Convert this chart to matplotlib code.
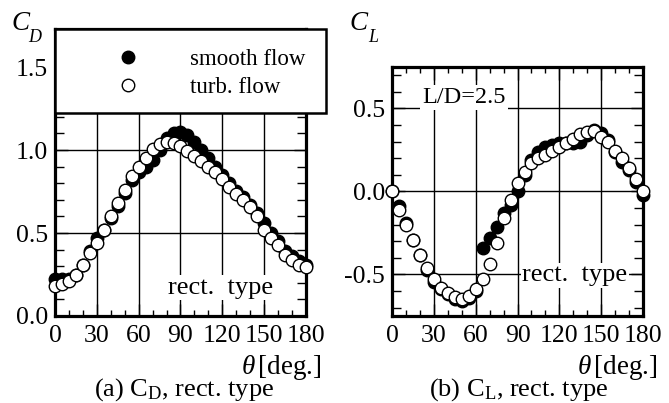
import numpy as np
import matplotlib
matplotlib.use('Agg')
import matplotlib.pyplot as plt
from matplotlib.ticker import MultipleLocator, FormatStrFormatter
from matplotlib.patches import Rectangle

plt.rcParams['font.family'] = 'Liberation Serif'
plt.rcParams['mathtext.fontset'] = 'custom'
plt.rcParams['mathtext.rm'] = 'Liberation Serif'
plt.rcParams['mathtext.it'] = 'Liberation Serif:italic'
plt.rcParams['axes.unicode_minus'] = False

# angle of attack, deg
theta = np.arange(0, 181, 5)

# (a) drag coefficient
cd_smooth = [0.22, 0.22, 0.22, 0.25, 0.31, 0.39, 0.47, 0.52, 0.59, 0.66,
             0.74, 0.82, 0.87, 0.90, 0.94, 1.00, 1.07, 1.10, 1.11, 1.09,
             1.05, 1.00, 0.95, 0.90, 0.85, 0.80, 0.755, 0.715, 0.67, 0.62,
             0.56, 0.50, 0.45, 0.39, 0.36, 0.33, 0.31]
cd_turb = [0.18, 0.19, 0.21, 0.25, 0.31, 0.38, 0.44, 0.52, 0.60, 0.68,
           0.76, 0.845, 0.90, 0.955, 1.005, 1.035, 1.05, 1.04, 1.025, 0.995,
           0.965, 0.935, 0.90, 0.865, 0.825, 0.78, 0.735, 0.70, 0.655, 0.60,
           0.52, 0.47, 0.43, 0.37, 0.335, 0.31, 0.295]

# (b) lift coefficient
cl_smooth = [0.0, -0.09, -0.19, -0.29, -0.38, -0.47, -0.545, -0.59, -0.62, -0.645,
             -0.66, -0.64, -0.60, -0.34, -0.28, -0.215, -0.13, -0.08, 0.0, 0.10,
             0.19, 0.24, 0.27, 0.28, 0.29, 0.29, 0.29, 0.30, 0.34, 0.37,
             0.355, 0.31, 0.235, 0.18, 0.13, 0.06, -0.02]
cl_turb = [0.0, -0.11, -0.20, -0.29, -0.38, -0.46, -0.53, -0.58, -0.61, -0.635,
           -0.645, -0.63, -0.59, -0.53, -0.435, -0.31, -0.16, -0.05, 0.05, 0.12,
           0.17, 0.20, 0.22, 0.245, 0.265, 0.29, 0.315, 0.345, 0.36, 0.365,
           0.33, 0.30, 0.245, 0.20, 0.14, 0.075, 0.0]

fig = plt.figure(figsize=(6.69, 4.03), dpi=100)
ax1 = fig.add_axes([0.0822, 0.2159, 0.3752, 0.7122])
ax2 = fig.add_axes([0.586, 0.2159, 0.3752, 0.6179])


def style(ax):
    ax.set_xlim(0, 180)
    ax.xaxis.set_major_locator(MultipleLocator(30))
    ax.xaxis.set_minor_locator(MultipleLocator(10))
    ax.yaxis.set_major_locator(MultipleLocator(0.5))
    ax.yaxis.set_minor_locator(MultipleLocator(0.1))
    ax.yaxis.set_major_formatter(FormatStrFormatter('%.1f'))
    ax.tick_params(which='both', direction='in', top=True, right=True, width=1)
    ax.tick_params(which='major', length=9, labelsize=18.5)
    ax.tick_params(axis='x', which='major', pad=6.5)
    ax.tick_params(axis='y', which='major', pad=5)
    ax.tick_params(axis='x', which='minor', length=4.5)
    ax.tick_params(axis='y', which='minor', length=6.5)
    ax.grid(which='major', color='k', lw=1)
    ax.set_axisbelow(True)
    for s in ax.spines.values():
        s.set_linewidth(2.3)


def ylabel(x, y, sub):
    # italic C with a low subscript, as in the original figure
    fig.text(x / 669, 1 - y / 403, 'C', fontsize=19.5, style='italic', ha='center', va='center')
    fig.text((x + 14) / 669, 1 - (y + 14) / 403, sub, fontsize=13, style='italic',
             ha='center', va='center')


ms = 9
# (a) C_D -------------------------------------------------
style(ax1)
ax1.set_ylim(0, 1.73)
ax1.plot(theta, cd_smooth, 'ko', markersize=ms, mew=1, label='smooth flow', clip_on=False, zorder=3)
ax1.plot(theta, cd_turb, 'ko', markersize=ms, mew=1, markerfacecolor='white', label='turb. flow',
         clip_on=False, zorder=3.1)
ax1.text(119, 0.17, 'rect.  type', fontsize=19, ha='center', va='center',
         bbox=dict(boxstyle='square,pad=0.05', fc='white', ec='none'))

box = Rectangle((0, 0.707), 1.08, 0.293, transform=ax1.transAxes, clip_on=False,
                facecolor='white', edgecolor='black', lw=1.8, zorder=4)
ax1.add_patch(box)
ax1.legend(loc='center left', bbox_to_anchor=(0.199, 0.845), frameon=False, fontsize=16.5,
           borderpad=0, borderaxespad=0, handlelength=2, handletextpad=1.7,
           labelspacing=0.3, numpoints=1)

ylabel(21, 23, 'D')
fig.text(322 / 669, 1 - 368 / 403, r'$\theta\,$[deg.]', fontsize=19.5, ha='right', va='center')
fig.text(184 / 669, 1 - 390 / 403, r'(a) C$_{\mathrm{D}}$, rect. type', fontsize=19,
         ha='center', va='center')

# (b) C_L -------------------------------------------------
style(ax2)
ax2.set_ylim(-0.75, 0.75)
ax2.plot(theta, cl_smooth, 'ko', markersize=ms, mew=1, clip_on=False, zorder=3)
ax2.plot(theta, cl_turb, 'ko', markersize=ms, mew=1, markerfacecolor='white', clip_on=False, zorder=3.1)
ax2.text(131, -0.506, 'rect.  type', fontsize=19, ha='center', va='center',
         bbox=dict(boxstyle='square,pad=0.05', fc='white', ec='none'))
ax2.text(51.6, 0.566, 'L/D=2.5', fontsize=17.5, ha='center', va='center',
         bbox=dict(boxstyle='square,pad=0.08', fc='white', ec='none'))

ylabel(359, 23, 'L')
fig.text(658 / 669, 1 - 367 / 403, r'$\theta\,$[deg.]', fontsize=19.5, ha='right', va='center')
fig.text(519 / 669, 1 - 390 / 403, r'(b) C$_{\mathrm{L}}$, rect. type', fontsize=19,
         ha='center', va='center')

fig.savefig('out.png', dpi=100)
